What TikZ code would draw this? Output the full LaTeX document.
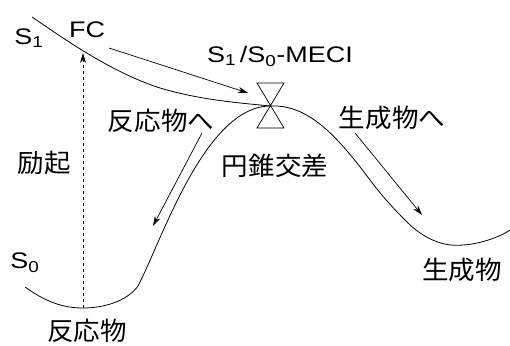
\documentclass[tikz,border=0pt]{standalone}
\usepackage{fontspec}
\setmainfont{Liberation Sans}
\newfontfamily\latf[FakeStretch=1.2]{Liberation Sans}
\newfontfamily\cjk[FakeStretch=1.04]{Noto Sans CJK JP}
\usetikzlibrary{arrows.meta}
\begin{document}
\begin{tikzpicture}[x=1pt,y=-1pt,
  curve/.style={line width=0.8pt},
  arr/.style={line width=0.7pt,-{Stealth[length=10pt,width=6pt]}},
  lat/.style={font=\latf\fontsize{22.5}{24}\selectfont,inner sep=0pt},
  jp/.style={font=\cjk\fontsize{25.5}{27}\selectfont,inner sep=0pt}]
\useasboundingbox (0,0) rectangle (510,345);
% coordinates
\coordinate (apex) at (270.5,106);
\coordinate (s0min) at (83,308);
\coordinate (fctip) at (83,53);
% S1 curve
\draw[curve] (32,17) .. controls (60,36) and (110,72) .. (160,88)
  .. controls (200,100) and (240,103) .. (apex);
% S0 curve
\draw[curve] (25,287) .. controls (50,305) and (68,308) .. (s0min)
  .. controls (106,308) and (128,300) .. (138,286)
  .. controls (162,240) and (205,106) .. (apex)
  .. controls (310,104) and (340,140) .. (370,180)
  .. controls (385,200) and (398,213) .. (407,222)
  .. controls (425,240) and (445,247) .. (463,245)
  .. controls (480,244) and (500,237) .. (510,230);
% cone
\draw[line width=0.7pt] (257,83) -- (284,83) -- (257,128) -- (284,128) -- cycle;
% labels
\node[lat] (s1) at (29,38) {S\textsubscript{1}};
\node[lat] (fc) at (87,30) {FC};
\node[lat] (meci) at (280,56) {S\textsubscript{1}\,/S\textsubscript{0}-MECI};
\node[lat] (s0) at (25,263) {S\textsubscript{0}};
\node[jp] (hannoue) at (161,121) {反応物へ};
\node[jp] (reiki) at (44,163) {励起};
\node[jp] (ensui) at (275,166) {円錐交差};
\node[jp] (seiseiue) at (392,118) {生成物へ};
\node[jp] (hanno) at (87,331) {反応物};
\node[jp] (seisei) at (462,270) {生成物};
% arrows
\coordinate (a1s) at (109,48); \coordinate (a1e) at (248,93);
\coordinate (a2s) at (202,133); \coordinate (a2e) at (153,226);
\coordinate (a3s) at (355,133); \coordinate (a3e) at (422,215);
\draw[arr] (a1s) -- (a1e);
\draw[arr] (a2s) -- (a2e);
\draw[arr] (a3s) -- (a3e);
\draw[arr,dashed] (s0min) -- (fctip);
\end{tikzpicture}
\end{document}
